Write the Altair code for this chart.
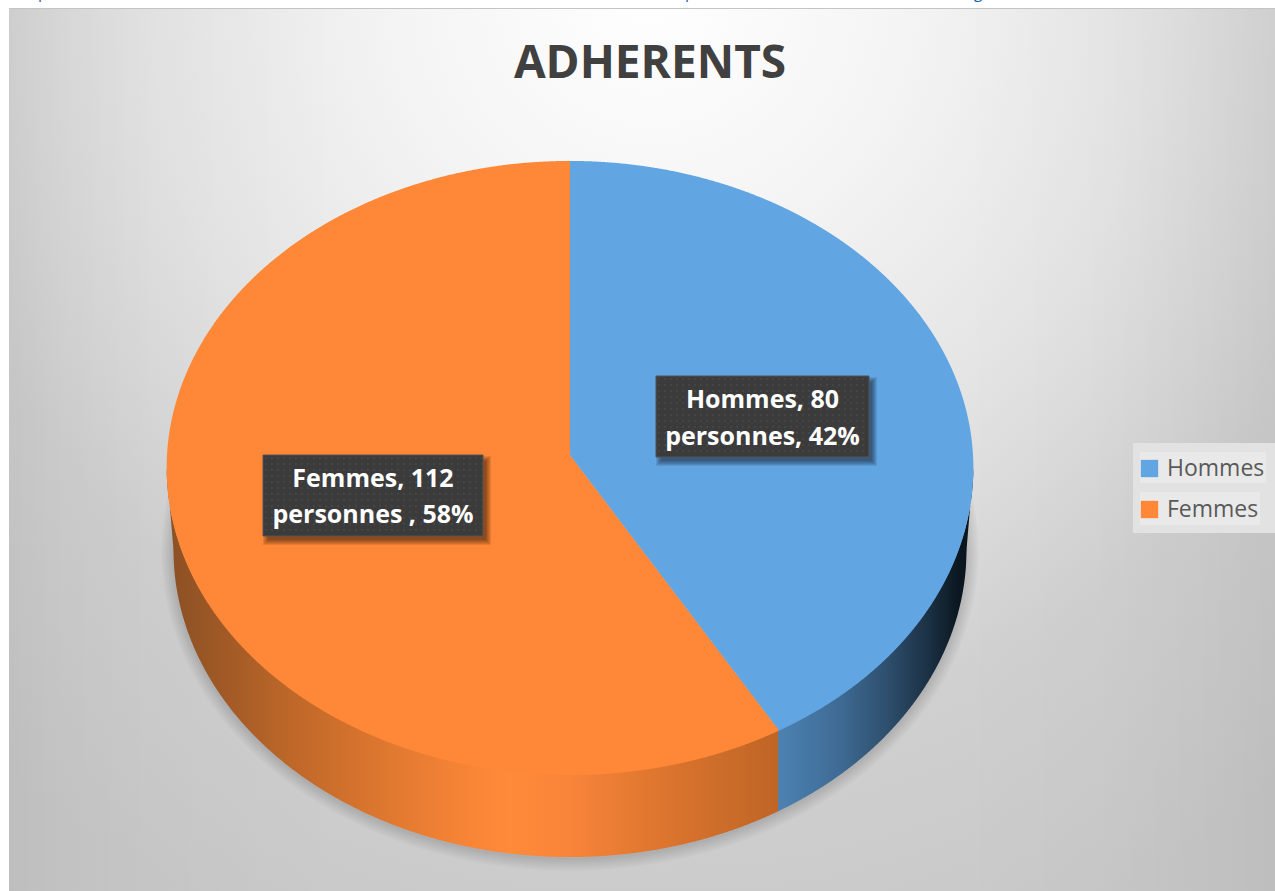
import numpy as np
import pandas as pd
import altair as alt

# Membership figures
categories = ["Hommes", "Femmes"]
members = [80, 112]
label_separators = [", ", " , "]
slice_colors = ["#62a5e3", "#ff8738"]

W, H = 1275, 891
total = sum(members)
shares = [v / total for v in members]

# Perspective model of the tilted disc
CX, APEX_Y, A, B, K, DEPTH, FOOT = 570.0, 455.0, 403.0, 306.5, 0.0423, 82.0, 0.983


def rim(theta, grow=0.0, foot=1.0, drop=0.0):
    u, v = np.sin(theta), -np.cos(theta)
    d = 1 - K * v
    return CX + (A * foot + grow) * u / d, APEX_Y + drop + (B + grow) * v / d


def branches(grow=0.0, foot=1.0, drop=0.0):
    t = np.linspace(0, 2 * np.pi, 2881)
    x, y = rim(t, grow, foot, drop)
    lo, hi = int(np.argmin(x)), int(np.argmax(x))
    low_x, low_y = x[hi:lo + 1], y[hi:lo + 1]
    up_idx = np.r_[lo:2880, 0:hi + 1]
    up_x, up_y = x[up_idx], y[up_idx]
    order = np.argsort(low_x)
    return float(x[lo]), float(x[hi]), (up_x, up_y), (low_x[order], low_y[order])


def xgrid(a, b, n=500):
    return a + (b - a) * (1 - np.cos(np.linspace(0, np.pi, n))) / 2


xmin, xmax, upper, lower = branches()
fmin, fmax, _, foot_lower = branches(foot=FOOT, drop=DEPTH)
split_x, split_y = rim(2 * np.pi * shares[0])
split_x, split_y = float(split_x), float(split_y)


def upper_y(x):
    return np.interp(x, *upper)


def lower_y(x):
    return np.interp(x, *lower)


def spoke_y(x):
    return APEX_Y + (x - CX) / (split_x - CX) * (split_y - APEX_Y)


def frame(x, y, y2, **extra):
    d = pd.DataFrame({"px": x, "py": y, "pb": y2})
    for k, val in extra.items():
        d[k] = val
    return d


xs = alt.X("px:Q", scale=alt.Scale(domain=[0, W], nice=False, zero=False), axis=None)
ys = alt.Y("py:Q", scale=alt.Scale(domain=[0, H], reverse=True, nice=False, zero=False), axis=None, stack=None)
yb = alt.Y2("pb:Q")
one = pd.DataFrame({"k": [0]})


def box(x0, y0, x1, y1, **mark):
    return alt.Chart(one).mark_rect(**mark).encode(
        x=alt.value(x0), x2=alt.value(x1), y=alt.value(y0), y2=alt.value(y1)
    )


def gradient(stops):
    return alt.LinearGradient(
        gradient="linear", x1=0, x2=1, y1=0, y2=0,
        stops=[alt.GradientStop(color=c, offset=o) for o, c in stops],
    )


layers = []

# Chart area backdrop: a radial glow, darkened a little towards the two sides
layers.append(box(9, 8, W, 9.5, color="#c4c4c4"))
layers.append(box(9, 9, W, H, fill=alt.RadialGradient(
    gradient="radial", x1=0.507, y1=0.137, r1=0.0, x2=0.507, y2=0.137, r2=0.8,
    stops=[alt.GradientStop(color="#ffffff", offset=0),
           alt.GradientStop(color="#f4f4f4", offset=0.25),
           alt.GradientStop(color="#e4e4e4", offset=0.5),
           alt.GradientStop(color="#d0d0d0", offset=0.74),
           alt.GradientStop(color="#c8c8c8", offset=1)],
)))
layers.append(box(9, 9, W, H, fill=gradient([
    (0.0, "rgba(0,0,0,0.05)"), (0.04, "rgba(0,0,0,0.03)"), (0.11, "rgba(0,0,0,0.015)"),
    (0.27, "rgba(0,0,0,0)"), (0.743, "rgba(0,0,0,0)"), (0.862, "rgba(0,0,0,0.012)"),
    (0.941, "rgba(0,0,0,0.03)"), (1.0, "rgba(0,0,0,0.05)"),
])))

# Descenders of the page text running above the chart
for ch, px in [("p", 43), (",", 311), ("p", 690), ("g", 978)]:
    layers.append(alt.Chart(one).mark_text(
        text=ch, font="Open Sans", fontSize=16, color="#1f5fa8", align="center", baseline="alphabetic",
    ).encode(x=alt.value(px), y=alt.value(-2)))

# Soft shadow under the disc
for grow in [12, 10, 8, 6, 4, 2]:
    a, b, up, low = branches(grow=grow, foot=FOOT, drop=DEPTH + 1)
    gx = xgrid(a, b, 300)
    d = frame(gx, np.interp(gx, *up), np.interp(gx, *low))
    layers.append(alt.Chart(d).mark_area(color="#000000", opacity=0.024, orient="vertical").encode(
        x=xs, y=ys, y2=yb))

# Side wall: orange part then blue part
wall_x = xgrid(xmin, split_x, 600)
foot_y = np.where(wall_x < fmin,
                  468 + (wall_x - xmin) / (fmin - xmin) * DEPTH,
                  np.interp(wall_x, *foot_lower))
layers.append(alt.Chart(frame(wall_x, lower_y(wall_x) - 1, foot_y)).mark_area(orient="vertical", color=gradient([
    (0.0, "#8a5024"), (0.1, "#a25a26"), (0.2, "#bd6729"), (0.35, "#dd772f"),
    (0.5, "#f98537"), (0.56, "#ff8a39"), (0.66, "#f8843a"), (0.78, "#e27830"),
    (0.9, "#cd6d2a"), (1.0, "#bf6526"),
])).encode(x=xs, y=ys, y2=yb))

wall_x = xgrid(split_x - 1, xmax, 400)
foot_y = np.where(wall_x > fmax,
                  468 + (xmax - wall_x) / (xmax - fmax) * DEPTH,
                  np.interp(wall_x, *foot_lower))
layers.append(alt.Chart(frame(wall_x, lower_y(wall_x) - 1, foot_y)).mark_area(orient="vertical", color=gradient([
    (0.0, "#4c82b2"), (0.3, "#3f6c96"), (0.55, "#2f506f"), (0.78, "#1a2f42"),
    (0.92, "#0b1821"), (1.0, "#0a141c"),
])).encode(x=xs, y=ys, y2=yb))

# Legend plate
layers.append(box(1133, 443, W, 533, color="#e2e2e2"))
layers.append(box(1140, 452, 1266, 483, color="#e9e9e9"))
layers.append(box(1140, 492, 1260, 525, color="#e9e9e9"))

# Top face, one area per slice
bx = np.r_[xgrid(CX, split_x, 300), xgrid(split_x, xmax, 500)[1:]]
blue = frame(bx, upper_y(bx), np.where(bx <= split_x, spoke_y(bx), lower_y(bx)), cat=categories[0])
n_left = 600
ox = np.r_[xgrid(xmin, CX, n_left), xgrid(CX, split_x, 300) + 1e-6]
o_top = np.r_[upper_y(ox[:n_left]), spoke_y(ox[n_left:])]
orange = frame(ox, o_top, lower_y(ox), cat=categories[1])
layers.append(alt.Chart(pd.concat([orange, blue])).mark_area(orient="vertical").encode(
    x=xs, y=ys, y2=yb,
    color=alt.Color("cat:N", scale=alt.Scale(domain=categories, range=slice_colors), legend=alt.Legend(
        orient="none", legendX=1138, legendY=457, title=None,
        symbolType="square", symbolSize=300, symbolStrokeWidth=0,
        labelFont="Open Sans", labelFontSize=23, labelColor="#595959",
        padding=0, rowPadding=17, labelOffset=6,
        labelLimit=200, symbolOffset=0,
    )),
))


# Data labels with drop shadow and dotted dark plate
def plate(x0, y0, x1, y1):
    parts = []
    for g in [4, 3, 2, 1, 0, -1]:
        parts.append(box(x0 + 4 - g, y0 + 5 - g, x1 + 4 + g, y1 + 5 + g, color="#000000", opacity=0.09))
    parts.append(box(x0, y0, x1, y1, fill="#3b3b3b", stroke="#555555", strokeWidth=1))
    gx, gy = np.meshgrid(np.arange(x0 + 3, x1, 6.0), np.arange(y0 + 3, y1, 6.0))
    dots = pd.DataFrame({"px": gx.ravel(), "py": gy.ravel()})
    parts.append(alt.Chart(dots).mark_square(size=3, color="#4f4f4f", opacity=0.8).encode(x=xs, y=ys))
    return parts


plates = [(656, 376, 869, 457), (263, 455, 483, 536)]
centers = [(762.5, 400, 437), (373, 479, 515)]
for i, cat in enumerate(categories):
    layers += plate(*plates[i])
    pct = round(100 * shares[i])
    cx, y1, y2 = centers[i]
    lines = [f"{cat}, {members[i]}", f"personnes{label_separators[i]}{pct}%"]
    for line, yy in zip(lines, (y1, y2)):
        layers.append(alt.Chart(one).mark_text(
            text=line, font="Open Sans", fontWeight=700, fontSize=25, color="#ffffff",
            align="center", baseline="middle",
        ).encode(x=alt.value(cx), y=alt.value(yy)))

# Title
layers.append(alt.Chart(one).mark_text(
    text="ADHERENTS", font="Open Sans", fontWeight=700, fontSize=46, color="#404040",
    align="center", baseline="middle",
).encode(x=alt.value(650), y=alt.value(64)))

chart = alt.layer(*layers).properties(
    width=W, height=H, padding=0, autosize=alt.AutoSizeParams(type="none"),
    background="#ffffff",
).configure_view(stroke=None)

chart.save("out.html", embed_options={"renderer": "svg", "actions": False})
